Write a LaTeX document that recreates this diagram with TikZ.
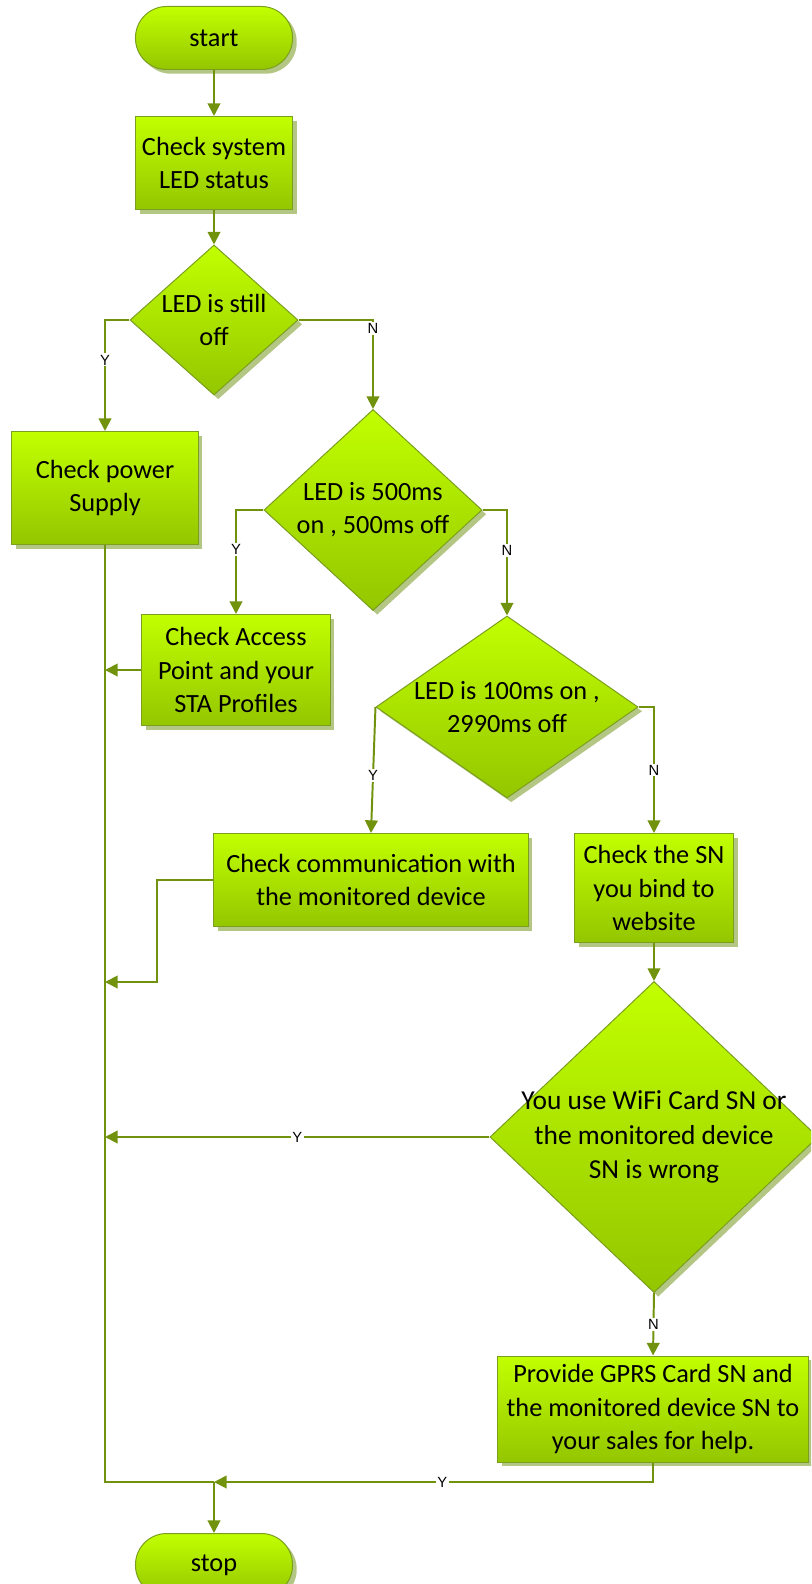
\documentclass[tikz,border=0pt]{standalone}
\usepackage{fontspec}
\setmainfont{Carlito}
\newfontfamily\lblfont{Liberation Sans}
\usetikzlibrary{shapes.geometric,arrows.meta,shadows}
\definecolor{topc}{RGB}{194,255,0}
\definecolor{botc}{RGB}{148,198,0}
\definecolor{edgec}{RGB}{122,158,30}
\definecolor{linec}{RGB}{112,146,12}
\definecolor{shadc}{RGB}{180,198,132}
\begin{document}
\begin{tikzpicture}[x=0.025cm,y=-0.025cm,
  base/.style={draw=edgec, line width=0.7pt, top color=topc, bottom color=botc,
    drop shadow={shadow xshift=3pt,shadow yshift=-3pt,fill=shadc,opacity=1},
    font=\fontsize{18.7}{23.5}\selectfont, align=center, inner sep=0pt},
  box/.style={base, rectangle},
  term/.style={base, rectangle, rounded corners=0.78cm, minimum width=3.925cm, minimum height=1.575cm},
  dia/.style={base, diamond},
  txt/.style={font=\fontsize{18.7}{23.5}\selectfont, align=center, inner sep=0pt},
  conn/.style={draw=linec, line width=1.4pt, -{Triangle[length=9pt,width=9pt]}},
  plain/.style={draw=linec, line width=1.4pt},
  lbl/.style={fill=white, inner sep=1pt, font=\lblfont\fontsize{10.5}{12}\selectfont, text=black}]
\useasboundingbox (0,0) rectangle (811,1584);
\clip (0,0) rectangle (811,1584);

\node[term] (start) at (214,38) {start};
\node[box, minimum width=3.925cm, minimum height=2.325cm] (led) at (214,163) {Check system\\LED status};
\node[dia, minimum width=4.2cm, minimum height=3.75cm] (d1) at (214,320) {};
\node[txt] (d1t) at (d1) {LED is still\\off};
\node[box, minimum width=4.65cm, minimum height=2.825cm] (power) at (105,488) {Check power\\Supply};
\node[dia, minimum width=5.45cm, minimum height=5.025cm] (d2) at (373,510) {};
\node[txt] (d2t) at (d2) {LED is 500ms\\on , 500ms off};
\node[box, minimum width=4.7cm, minimum height=2.775cm] (access) at (236,670) {Check Access\\Point and your\\STA Profiles};
\node[dia, minimum width=6.55cm, minimum height=4.55cm] (d3) at (507,707) {};
\node[txt] (d3t) at (d3) {LED is 100ms on ,\\2990ms off};
\node[box, minimum width=7.85cm, minimum height=2.325cm] (comm) at (371,880) {Check communication with\\the monitored device};
\node[box, minimum width=3.975cm, minimum height=2.725cm] (sn) at (654,888) {Check the SN\\you bind to\\website};
\node[dia, minimum width=8.2cm, minimum height=7.775cm] (d4) at (654,1137) {};
\node[txt, font=\fontsize{19.5}{24.5}\selectfont] (d4t) at (d4) {You use WiFi Card SN or\\the monitored device\\SN is wrong};
\node[box, minimum width=7.775cm, minimum height=2.65cm] (gprs) at (653,1409) {Provide GPRS Card SN and\\the monitored device SN to\\your sales for help.};
\node[term] (stop) at (214,1565) {stop};

\coordinate (t1) at (105,670);
\coordinate (t2) at (105,982);
\coordinate (t3) at (105,1137);
\coordinate (J) at (214,1482);

\draw[conn] (start) -- (led);
\draw[conn] (led) -- (d1);
\draw[conn] (d1.west) -| node[lbl,pos=0.68]{Y} (power.north);
\draw[conn] (d1.east) -| node[lbl,pos=0.55]{N} (d2.north);
\draw[conn] (d2.west) -| node[lbl,pos=0.69]{Y} (access.north);
\draw[conn] (d2.east) -| node[lbl,pos=0.69]{N} (d3.north);
\draw[conn] (d3.west) -- node[lbl,pos=0.54]{Y} (comm.north);
\draw[conn] (d3.east) -| node[lbl,pos=0.75]{N} (sn.north);
\draw[conn] (sn) -- (d4);
\draw[conn] (d4.west) -- node[lbl]{Y} (t3);
\draw[conn] (d4.south) -- node[lbl]{N} (gprs.north);
\draw[conn] (access.west) -- (t1);
\draw[conn] (comm.west) -- ++(-56,0) |- (t2);
\draw[plain] (power.south) |- (J);
\draw[conn] (gprs.south) |- node[lbl,pos=0.74]{Y} (J);
\draw[conn] (J) -- (stop.north);
\end{tikzpicture}
\end{document}
